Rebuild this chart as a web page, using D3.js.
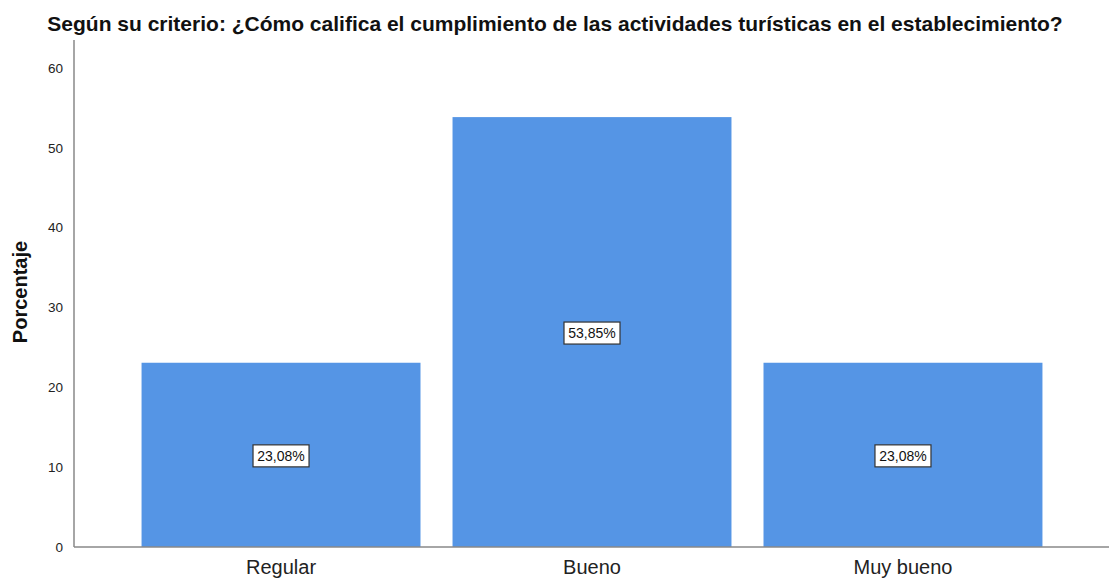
<!DOCTYPE html>
<html>
<head>
<meta charset="utf-8">
<script src="https://cdn.jsdelivr.net/npm/d3@7"></script>
<style>
  body { margin: 0; background: #fff; }
  text { font-family: "Liberation Sans", Arial, sans-serif; }
</style>
</head>
<body>
<div id="chart"></div>
<script>
const categories = ["Regular", "Bueno", "Muy bueno"];
const values = [23.08, 53.85, 23.08];
const yTicks = [0, 10, 20, 30, 40, 50, 60];

const width = 1109, height = 580;
const title = "Según su criterio: ¿Cómo califica el cumplimiento de las actividades turísticas en el establecimiento?";

const svg = d3.select("#chart").append("svg")
  .attr("width", width)
  .attr("height", height);

const x = d3.scaleBand()
  .domain(categories)
  .range([75, 1109])
  .paddingInner(0.103)
  .paddingOuter(0.214);

const y = d3.scaleLinear()
  .domain([0, 60])
  .range([547, 68]);

// bars
svg.append("g")
  .selectAll("rect")
  .data(values)
  .join("rect")
    .attr("x", (d, i) => x(categories[i]))
    .attr("y", d => y(d))
    .attr("width", x.bandwidth())
    .attr("height", d => y(0) - y(d))
    .attr("fill", "#5595e5");

// y axis
const yAxis = svg.append("g")
  .attr("transform", "translate(74,0)")
  .call(d3.axisLeft(y).tickValues(yTicks).tickSize(0).tickPadding(11));
yAxis.select(".domain").remove();
yAxis.selectAll("text")
  .attr("font-size", 13.5)
  .attr("fill", "#222")
  .style("font-family", "'Liberation Sans', Arial, sans-serif");
svg.append("line")
  .attr("x1", 74).attr("x2", 74)
  .attr("y1", 40).attr("y2", y(0))
  .attr("stroke", "#888").attr("stroke-width", 1.5);

// x axis
const xAxis = svg.append("g")
  .attr("transform", "translate(0," + y(0) + ")")
  .call(d3.axisBottom(x).tickSize(0).tickPadding(13));
xAxis.select(".domain").remove();
xAxis.selectAll("text")
  .attr("font-size", 20)
  .attr("fill", "#222")
  .style("font-family", "'Liberation Sans', Arial, sans-serif");
svg.append("line")
  .attr("x1", 74).attr("x2", width)
  .attr("y1", y(0)).attr("y2", y(0))
  .attr("stroke", "#888").attr("stroke-width", 1.5);

// value labels
const fmt = v => v.toFixed(2).replace(".", ",") + "%";
const lbl = svg.append("g")
  .selectAll("g")
  .data(values)
  .join("g")
    .attr("transform", (d, i) => "translate(" + (x(categories[i]) + x.bandwidth() / 2) + "," + (y(d / 2) + 1) + ")");
lbl.append("rect")
  .attr("x", -28).attr("y", -11)
  .attr("width", 56).attr("height", 22)
  .attr("fill", "#fff")
  .attr("stroke", "#333").attr("stroke-width", 1.2);
lbl.append("text")
  .attr("text-anchor", "middle")
  .attr("dy", "0.36em")
  .attr("font-size", 14)
  .attr("fill", "#111")
  .text(fmt);

// title
svg.append("text")
  .attr("x", 555).attr("y", 31)
  .attr("text-anchor", "middle")
  .attr("font-size", 21)
  .attr("font-weight", "bold")
  .attr("fill", "#111")
  .text(title);

// y label
svg.append("text")
  .attr("transform", "translate(27,292) rotate(-90)")
  .attr("text-anchor", "middle")
  .attr("font-size", 20)
  .attr("font-weight", "bold")
  .attr("fill", "#111")
  .text("Porcentaje");
</script>
</body>
</html>
